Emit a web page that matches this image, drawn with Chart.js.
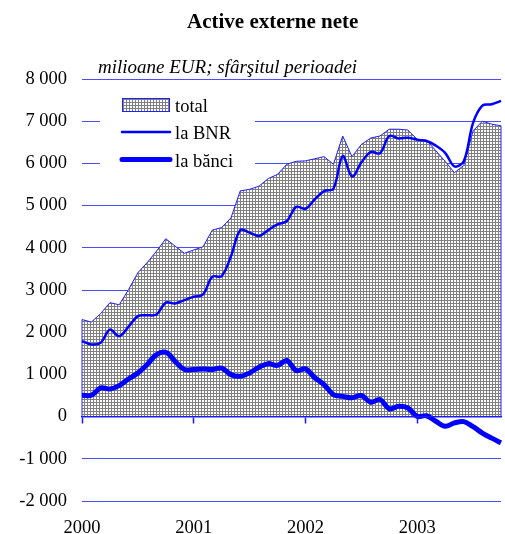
<!DOCTYPE html>
<html>
<head>
<meta charset="utf-8">
<script src="https://cdn.jsdelivr.net/npm/chart.js@4"></script>
<style>
  body { margin: 0; background: #fff; }
  #wrap { position: relative; width: 505px; height: 534px; }
  .cap { position: absolute; white-space: nowrap; font-family: 'Liberation Serif', 'Times New Roman', serif; color: #000; }
  #title { left: 187px; top: 11px; font-size: 21px; line-height: 21px; font-weight: bold; }
  #subtitle { left: 98px; top: 57px; font-size: 19px; line-height: 19px; font-style: italic; }
</style>
</head>
<body>
<div id="wrap">
  <canvas id="chart" width="505" height="534"></canvas>
  <div class="cap" id="title">Active externe nete</div>
  <div class="cap" id="subtitle">milioane EUR; sfârşitul perioadei</div>
</div>
<script>
// monthly data, Jan 2000 - Oct 2003 (mil. EUR, end of period)
const years = ['2000', '2001', '2002', '2003'];
const monthNames = ['ian', 'feb', 'mar', 'apr', 'mai', 'iun', 'iul', 'aug', 'sep', 'oct', 'noi', 'dec'];
const months = [];
years.forEach(y => monthNames.forEach(m => months.push(m + ' ' + y)));
months.length = 46;

const total = [2300, 2240, 2440, 2700, 2650, 3010, 3410, 3650, 3920, 4215, 4040, 3870,
               3950, 4025, 4420, 4480, 4710, 5350, 5385, 5460, 5640, 5740, 5980, 6050,
               6060, 6110, 6160, 5980, 6650, 6160, 6450, 6600, 6650, 6810, 6810, 6790,
               6570, 6550, 6300, 6050, 5780, 5950, 6770, 7000, 6930, 6890];
const laBNR = [1790, 1710, 1750, 2060, 1905, 2130, 2380, 2400, 2420, 2700, 2680, 2760,
               2840, 2895, 3315, 3330, 3800, 4420, 4360, 4280, 4420, 4555, 4635, 4970,
               4925, 5150, 5345, 5400, 6175, 5690, 6020, 6270, 6240, 6650, 6590, 6610,
               6560, 6530, 6420, 6250, 5930, 6050, 6960, 7370, 7400, 7480];
const laBanci = [505, 505, 680, 655, 735, 890, 1035, 1235, 1470, 1525, 1310, 1115,
                 1115, 1130, 1115, 1150, 995, 955, 1035, 1170, 1255, 1215, 1330, 1090,
                 1130, 920, 760, 520, 480, 445, 500, 340, 405, 185, 245, 205,
                 5, 20, -110, -230, -150, -120, -240, -390, -510, -620];

const blue = '#0000ff';
const gridBlue = '#4d4dff';

Chart.defaults.font.family = "'Liberation Serif', 'Times New Roman', serif";
Chart.defaults.color = '#000';

// grey grid hatch used for the "total" area
function makeHatch() {
    const c = document.createElement('canvas');
    c.width = 3;
    c.height = 3;
    const g = c.getContext('2d');
    g.fillStyle = '#fff';
    g.fillRect(0, 0, 3, 3);
    g.fillStyle = '#808080';
    g.fillRect(0, 0, 3, 1);
    g.fillRect(0, 0, 1, 3);
    return g.createPattern(c, 'repeat');
}
const hatch = makeHatch();

function fmt(v) {
    const a = Math.abs(v);
    const s = a >= 1000 ? Math.floor(a / 1000) + ' ' + String(a % 1000).padStart(3, '0') : String(a);
    return (v < 0 ? '-' : '') + s;
}

// side edges of the area, like the excel outline
const areaEdges = {
    id: 'areaEdges',
    afterDatasetDraw(chart, args) {
        if (args.index !== 0) return;
        const pts = args.meta.data;
        const y0 = chart.scales.y.getPixelForValue(0);
        const first = pts[0], last = pts[pts.length - 1];
        const ctx = chart.ctx;
        ctx.save();
        ctx.strokeStyle = '#2020ff';
        ctx.lineWidth = 1;
        ctx.beginPath();
        ctx.moveTo(first.x, first.y);
        ctx.lineTo(first.x, y0);
        ctx.moveTo(last.x, last.y);
        ctx.lineTo(last.x, y0);
        ctx.stroke();
        ctx.restore();
    }
};

// legend box inside the plot, top left
const legendBox = {
    id: 'legendBox',
    afterDraw(chart) {
        const ctx = chart.ctx;
        const a = chart.chartArea;
        const ds = chart.data.datasets;
        ctx.save();
        ctx.fillStyle = '#fff';
        ctx.fillRect(a.left + 18, a.top + 7, 155, 90);

        const sx = a.left + 40, tx = a.left + 93;
        const rows = [a.top + 25.5, a.top + 53, a.top + 80.5];

        // total swatch
        ctx.fillStyle = hatch;
        ctx.fillRect(sx, rows[0] - 6.5, 47, 13);
        ctx.strokeStyle = '#2020ff';
        ctx.lineWidth = 1;
        ctx.strokeRect(sx + 0.5, rows[0] - 6.5 + 0.5, 47, 13);

        // line swatches
        [1, 2].forEach(i => {
            ctx.beginPath();
            ctx.strokeStyle = ds[i].borderColor;
            ctx.lineWidth = ds[i].borderWidth;
            ctx.lineCap = 'round';
            ctx.moveTo(sx, rows[i]);
            ctx.lineTo(sx + 48, rows[i]);
            ctx.stroke();
        });

        ctx.fillStyle = '#000';
        ctx.font = "18.5px 'Liberation Serif', 'Times New Roman', serif";
        ctx.textBaseline = 'alphabetic';
        ds.forEach((d, i) => ctx.fillText(d.label, tx, rows[i] + 7));
        ctx.restore();
    }
};

new Chart(document.getElementById('chart'), {
    type: 'line',
    data: {
        labels: months,
        datasets: [{
            label: 'total',
            data: total,
            order: 3,
            borderColor: '#2020ff',
            borderWidth: 1,
            backgroundColor: hatch,
            fill: 'origin',
            tension: 0,
            pointRadius: 0
        }, {
            label: 'la BNR',
            data: laBNR,
            order: 2,
            borderColor: blue,
            borderWidth: 2.5,
            fill: false,
            tension: 0.35,
            pointRadius: 0
        }, {
            label: 'la bănci',
            data: laBanci,
            order: 1,
            borderColor: blue,
            borderWidth: 5,
            fill: false,
            tension: 0.35,
            pointRadius: 0
        }]
    },
    options: {
        responsive: false,
        animation: false,
        devicePixelRatio: 1,
        layout: { padding: { left: 0, right: 4, top: 79, bottom: 0 } },
        plugins: {
            legend: { display: false },
            tooltip: { enabled: false }
        },
        scales: {
            x: {
                type: 'category',
                offset: false,
                grid: { display: false },
                border: { display: false },
                ticks: {
                    autoSkip: false,
                    maxRotation: 0,
                    padding: 8,
                    font: { size: 18.5 },
                    callback: (v, i) => i % 12 === 0 ? years[i / 12] : ''
                },
                afterFit: s => { s.height = 33; s.paddingLeft = 0; s.paddingRight = 0; }
            },
            x0: {
                type: 'category',
                axis: 'x',
                position: { y: 0 },
                offset: false,
                ticks: { display: false },
                grid: {
                    drawOnChartArea: false,
                    drawTicks: true,
                    tickLength: 6,
                    tickWidth: 1.5,
                    tickColor: c => c.index % 12 === 0 ? '#1a1aff' : 'rgba(0,0,0,0)',
                    z: 1
                },
                border: { display: true, color: '#1a1aff', width: 1.5, z: 1 },
                afterFit: s => { s.height = 0; s.paddingLeft = 0; s.paddingRight = 0; }
            },
            y: {
                min: -2000,
                max: 8000,
                grid: { color: gridBlue, lineWidth: 1, drawTicks: false },
                border: { display: false },
                ticks: {
                    stepSize: 1000,
                    padding: 15,
                    font: { size: 18.5 },
                    callback: v => fmt(v)
                },
                afterFit: s => { s.width = 82; }
            }
        }
    },
    plugins: [areaEdges, legendBox]
});
</script>
</body>
</html>
